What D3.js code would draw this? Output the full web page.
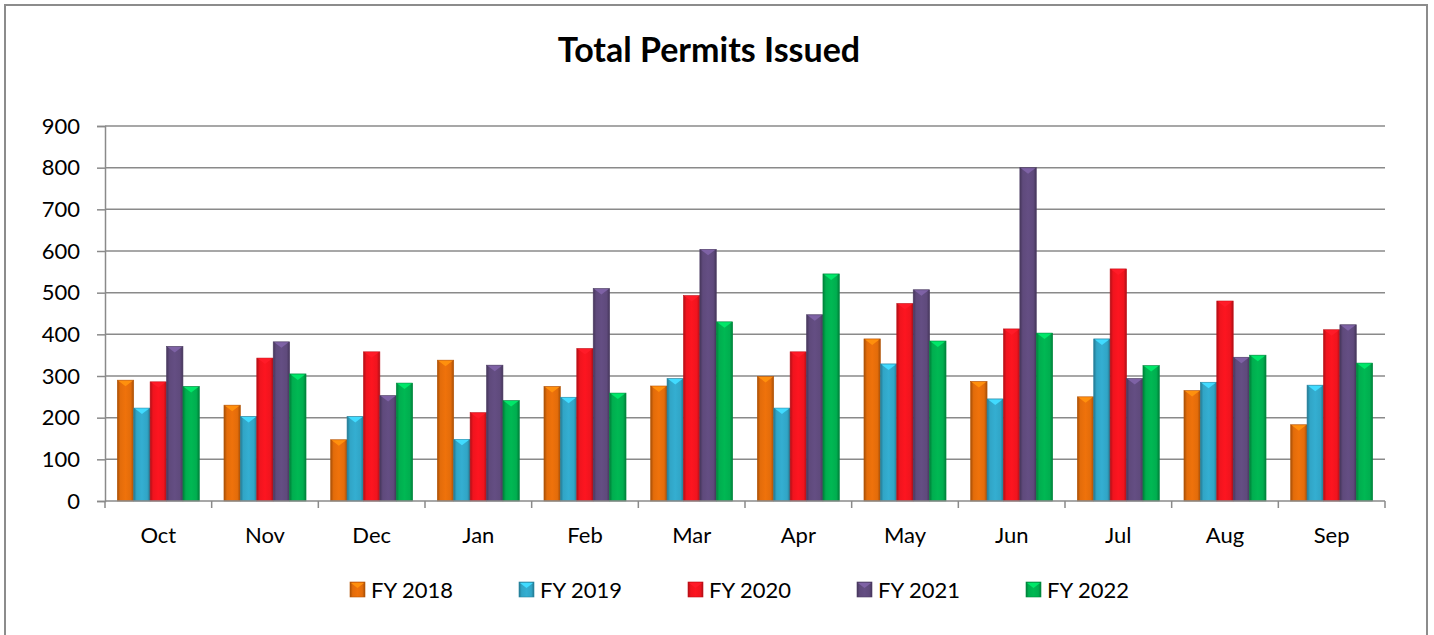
<!DOCTYPE html>
<html>
<head>
<meta charset="utf-8">
<script src="https://cdn.jsdelivr.net/npm/d3@7"></script>
<style>
  body { margin: 0; background: #fff; }
  svg { display: block; font-family: Lato, "Open Sans", sans-serif; }
</style>
</head>
<body>
<svg width="1434" height="635"></svg>
<script>
(function() {
    'use strict';
    var months = ["Oct", "Nov", "Dec", "Jan", "Feb", "Mar", "Apr", "May", "Jun", "Jul", "Aug", "Sep"];
    var seriesNames = ["FY 2018", "FY 2019", "FY 2020", "FY 2021", "FY 2022"];
    var fy2018 = [290, 230, 147, 338, 275, 276, 299, 389, 287, 250, 265, 183];
    var fy2019 = [223, 203, 203, 148, 249, 294, 223, 329, 245, 389, 285, 278];
    var fy2020 = [286, 343, 358, 212, 366, 493, 358, 474, 413, 557, 480, 411];
    var fy2021 = [371, 382, 253, 326, 510, 604, 447, 507, 800, 294, 345, 423];
    var fy2022 = [275, 305, 283, 241, 259, 430, 545, 384, 403, 325, 350, 331];
    var yTicks = [0, 100, 200, 300, 400, 500, 600, 700, 800, 900];
    var colors = ["#E36C0A", "#31A5C6", "#F0141E", "#5F4A7C", "#00AE4F"];

    var allSeries = [fy2018, fy2019, fy2020, fy2021, fy2022];

    var svg = d3.select("svg");

    // frame (bottom edge falls outside the picture)
    svg.append("rect")
        .attr("x", 5).attr("y", 5)
        .attr("width", 1422).attr("height", 640)
        .attr("fill", "#fff")
        .attr("stroke", "#8c8c8c")
        .attr("stroke-width", 2);

    svg.append("text")
        .attr("x", 709)
        .attr("y", 62)
        .attr("text-anchor", "middle")
        .attr("font-weight", "bold")
        .attr("font-size", 34)
        .attr("fill", "#000")
        .text("Total Permits Issued");

    var x0 = d3.scaleBand().domain(months).range([105, 1385]).padding(0);
    var x1 = d3.scaleBand().domain(seriesNames).range([0, x0.bandwidth()])
        .paddingInner(0).paddingOuter(0.75);
    var y = d3.scaleLinear().domain([0, 900]).range([501, 126]);

    // gradients
    var defs = svg.append("defs");
    colors.forEach(function(c, i) {
        var base = d3.color(c);
        var g = defs.append("linearGradient")
            .attr("id", "grad" + i)
            .attr("x1", "0%").attr("x2", "100%")
            .attr("y1", "0%").attr("y2", "0%");
        g.append("stop").attr("offset", "0%").attr("stop-color", base.darker(0.9));
        g.append("stop").attr("offset", "18%").attr("stop-color", base);
        g.append("stop").attr("offset", "50%").attr("stop-color", base.brighter(0.15));
        g.append("stop").attr("offset", "82%").attr("stop-color", base);
        g.append("stop").attr("offset", "100%").attr("stop-color", base.darker(0.9));
    });

    // gridlines
    svg.append("g")
        .selectAll("line")
        .data(yTicks.slice(1))
        .enter().append("line")
        .attr("x1", 105).attr("x2", 1385)
        .attr("y1", function(d) { return y(d); })
        .attr("y2", function(d) { return y(d); })
        .attr("stroke", "#8a8a8a")
        .attr("stroke-width", 1.5);

    // y axis
    var yAxis = svg.append("g")
        .attr("transform", "translate(105,0)")
        .call(d3.axisLeft(y).tickValues(yTicks).tickSize(8).tickPadding(17));
    yAxis.select(".domain").attr("stroke", "#8a8a8a").attr("stroke-width", 1.5);
    yAxis.selectAll(".tick line").attr("stroke", "#8a8a8a").attr("stroke-width", 1.5);
    yAxis.selectAll("text")
        .attr("font-size", 22)
        .attr("font-family", "Lato, sans-serif")
        .attr("fill", "#000");

    // bars
    var groups = svg.append("g")
        .selectAll("g")
        .data(months)
        .enter().append("g")
        .attr("transform", function(d) { return "translate(" + x0(d) + ",0)"; });

    groups.each(function(m, mi) {
        var g = d3.select(this);
        seriesNames.forEach(function(s, si) {
            var v = allSeries[si][mi];
            var bx = x1(s);
            var bw = x1.bandwidth();
            var c = d3.color(colors[si]);
            g.append("rect")
                .attr("x", bx)
                .attr("y", y(v))
                .attr("width", bw)
                .attr("height", y(0) - y(v))
                .attr("fill", "url(#grad" + si + ")")
                .attr("stroke", c.darker(0.6))
                .attr("stroke-width", 0.6);
            g.append("polygon")
                .attr("points", [
                    [bx + 1, y(v) + 0.5],
                    [bx + bw - 1, y(v) + 0.5],
                    [bx + bw / 2, y(v) + 6]
                ].map(function(p) { return p.join(","); }).join(" "))
                .attr("fill", c.brighter(0.8));
        });
    });

    // x axis
    var xAxis = svg.append("g")
        .attr("transform", "translate(0,501)");
    xAxis.append("line")
        .attr("x1", 105).attr("x2", 1385)
        .attr("stroke", "#8a8a8a").attr("stroke-width", 1.5);
    xAxis.selectAll(".tk")
        .data(months.concat(["end"]))
        .enter().append("line")
        .attr("class", "tk")
        .attr("x1", function(d, i) { return i < months.length ? x0(d) : x0.range()[1]; })
        .attr("x2", function(d, i) { return i < months.length ? x0(d) : x0.range()[1]; })
        .attr("y1", 0).attr("y2", 7)
        .attr("stroke", "#8a8a8a").attr("stroke-width", 1.5);
    xAxis.selectAll("text")
        .data(months)
        .enter().append("text")
        .attr("x", function(d) { return x0(d) + x0.bandwidth() / 2; })
        .attr("y", 42)
        .attr("text-anchor", "middle")
        .attr("font-size", 22)
        .attr("fill", "#000")
        .text(function(d) { return d; });

    // legend
    var legendX = d3.scalePoint().domain(seriesNames).range([350, 1026]);
    var legend = svg.append("g")
        .selectAll("g")
        .data(seriesNames)
        .enter().append("g")
        .attr("transform", function(d) { return "translate(" + legendX(d) + ",582)"; });
    legend.append("rect")
        .attr("width", 15).attr("height", 15)
        .attr("fill", function(d, i) { return "url(#grad" + i + ")"; })
        .attr("stroke", function(d, i) { return d3.color(colors[i]).darker(0.6); })
        .attr("stroke-width", 0.6);
    legend.append("polygon")
        .attr("points", "1,1 14,1 7.5,6")
        .attr("fill", function(d, i) { return d3.color(colors[i]).brighter(0.8); });
    legend.append("text")
        .attr("x", 21)
        .attr("y", 16)
        .attr("font-size", 22)
        .attr("fill", "#000")
        .text(function(d) { return d; });
}());
</script>
</body>
</html>
